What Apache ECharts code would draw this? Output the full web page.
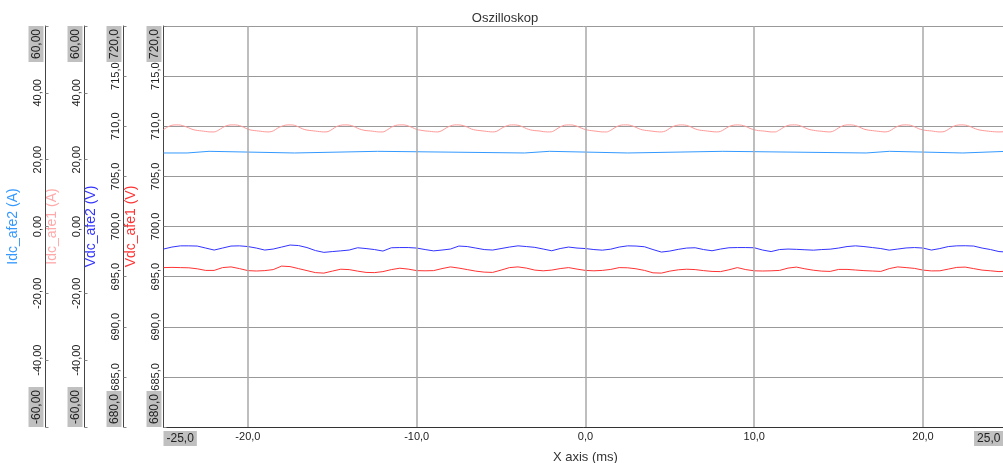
<!DOCTYPE html>
<html><head><meta charset="utf-8">
<script src="https://cdn.jsdelivr.net/npm/echarts@6/dist/echarts.min.js"></script>
<style>html,body{margin:0;padding:0;background:#fff;}#c{width:1003px;height:463px;}</style>
</head><body><div id="c"></div>
<script>
// time base (ms)
const T_START = -25;
const DT_IDC1 = 0.25;   // sample step of Idc_afe1
const DT_VDC = 0.5;     // sample step of Vdc_afe1 / Vdc_afe2

// Idc_afe1 (A), every 0.25 ms from -25 ms
const idcAfe1 = [
29.0, 29.8, 30.3, 30.4, 30.35, 30.0, 29.5, 29.0, 28.75, 28.6,
28.45, 28.3, 28.3, 28.8, 29.6, 30.2, 30.4, 30.4, 30.2, 29.7,
29.1, 28.8, 28.65, 28.5, 28.35, 28.3, 28.6, 29.4, 30.0, 30.35,
30.4, 30.3, 29.8, 29.2, 28.85, 28.7, 28.55, 28.4, 28.3, 28.4,
29.1, 29.9, 30.3, 30.4, 30.35, 30.0, 29.4, 28.95, 28.7, 28.6,
28.45, 28.3, 28.3, 28.9, 29.7, 30.25, 30.4, 30.4, 30.1, 29.6,
29.05, 28.8, 28.6, 28.5, 28.35, 28.3, 28.7, 29.5, 30.1, 30.4,
30.4, 30.2, 29.75, 29.15, 28.85, 28.7, 28.55, 28.4, 28.3, 28.5,
29.3, 29.95, 30.35, 30.4, 30.3, 29.9, 29.3, 28.9, 28.7, 28.6,
28.4, 28.3, 28.35, 29.0, 29.8, 30.3, 30.4, 30.35, 30.0, 29.45,
29.0, 28.75, 28.6, 28.45, 28.3, 28.3, 28.8, 29.6, 30.2, 30.4,
30.4, 30.15, 29.65, 29.1, 28.8, 28.65, 28.5, 28.35, 28.3, 28.6,
29.4, 30.05, 30.35, 30.4, 30.25, 29.8, 29.2, 28.85, 28.7, 28.55,
28.4, 28.3, 28.45, 29.15, 29.9, 30.3, 30.4, 30.3, 29.95, 29.35,
28.95, 28.7, 28.6, 28.45, 28.3, 28.3, 28.9, 29.7, 30.25, 30.4,
30.4, 30.1, 29.55, 29.05, 28.8, 28.6, 28.5, 28.35, 28.3, 28.7,
29.5, 30.15, 30.4, 30.4, 30.2, 29.7, 29.15, 28.85, 28.7, 28.55,
28.4, 28.3, 28.55, 29.3, 30.0, 30.35, 30.4, 30.3, 29.85, 29.25,
28.9, 28.7, 28.6, 28.4, 28.3, 28.4, 29.05, 29.85, 30.3, 30.4,
30.35, 30.0, 29.45, 29.0, 28.75, 28.6, 28.45, 28.35, 28.3, 28.35,
28.4
];

// Vdc_afe2 (V), every 0.5 ms from -25 ms
const vdcAfe2 = [
697.75, 697.95, 698.07, 698.07, 698.05, 697.85, 697.65, 697.85, 698.05, 698.07,
698.0, 697.85, 697.65, 697.75, 697.95, 698.15, 698.1, 697.9, 697.6, 697.42,
697.5, 697.57, 697.65, 697.88, 697.8, 697.7, 697.55, 697.88, 697.9, 697.9,
697.85, 697.7, 697.57, 697.65, 697.75, 698.05, 698.0, 697.85, 697.7, 697.65,
697.8, 697.95, 698.07, 698.0, 697.92, 697.75, 697.58, 697.8, 697.95, 697.85,
697.8, 697.7, 697.64, 697.74, 697.95, 698.07, 698.05, 697.98, 697.7, 697.45,
697.55, 697.72, 697.85, 697.88, 697.7, 697.58, 697.75, 697.88, 697.9, 697.9,
697.88, 697.65, 697.5, 697.7, 697.75, 697.72, 697.68, 697.64, 697.7, 697.74,
697.85, 698.0, 698.07, 698.0, 697.9, 697.8, 697.64, 697.75, 697.86, 697.9,
697.85, 697.65, 697.8, 698.0, 698.07, 698.08, 698.05, 697.85, 697.7, 697.5,
697.45
];

// Vdc_afe1 (V), every 0.5 ms from -25 ms
const vdcAfe1 = [
695.9, 695.92, 695.9, 695.88, 695.78, 695.62, 695.62, 695.9, 695.97, 695.8,
695.6, 695.56, 695.6, 695.7, 696.05, 696.0, 695.8, 695.6, 695.4, 695.35,
695.55, 695.74, 695.7, 695.55, 695.42, 695.4, 695.5, 695.7, 695.84, 695.75,
695.6, 695.58, 695.6, 695.8, 695.97, 695.85, 695.7, 695.55, 695.45, 695.42,
695.65, 695.9, 695.97, 695.85, 695.65, 695.58, 695.65, 695.8, 695.9, 695.75,
695.62, 695.58, 695.62, 695.72, 695.9, 695.88, 695.78, 695.62, 695.38, 695.35,
695.55, 695.68, 695.74, 695.7, 695.6, 695.52, 695.5, 695.68, 695.9, 695.7,
695.58, 695.56, 695.58, 695.62, 695.85, 695.95, 695.78, 695.64, 695.55, 695.52,
695.72, 695.72, 695.66, 695.6, 695.56, 695.52, 695.8, 695.97, 695.9, 695.82,
695.65, 695.57, 695.58, 695.75, 695.92, 695.95, 695.8, 695.65, 695.58, 695.5,
695.55
];

// Idc_afe2 (A): step signal, change times (ms) and held values
const idcAfe2Times  = [-25, -23.6, -22.3, -17.24, -12.31, -3.61, -2.13, 2.51, 8.14, 16.63, 18.01, 22.36, 25];
const idcAfe2Values = [22.0, 22.5, 22.0, 22.5, 22.0, 22.5, 22.0, 22.5, 22.0, 22.5, 22.0, 22.5, 22.5];

// axes
const X_MIN = -25, X_MAX = 25, X_STEP = 5;
const X_GRID = [-20, -10, 0, 10, 20];       // labelled x ticks / vertical grid lines
const V_MIN = 680, V_MAX = 720, V_STEP = 5;
const A_MIN = -60, A_MAX = 60, A_STEP = 20;

const FONT = "'Liberation Sans Narrow', 'Liberation Sans', Arial, sans-serif";
const FONT_W = "'Liberation Sans', Arial, sans-serif";

function pairs(arr, dt) { return arr.map((v, i) => [T_START + i * dt, v]); }
function fmt(dec) { return v => v.toFixed(dec).replace('.', ','); }
function isEdge(v, min, max) { return Math.abs(v - min) < 1e-9 || Math.abs(v - max) < 1e-9; }
function labelFmt(min, max, dec) {
  const f = fmt(dec);
  return v => isEdge(v, min, max) ? '{b|' + f(v) + '}' : f(v);
}
const boxStyle = { backgroundColor: '#c0c0c0', padding: [2, 3, 1, 3], fontSize: 12, fontFamily: FONT_W, color: '#222' };
const boxRich = { b: boxStyle, br: Object.assign({}, boxStyle, { padding: [2, 7, 1, 3] }) };

function yAxis(name, color, min, max, step, dec, offset, split) {
  return {
    type: 'value', position: 'left', offset: offset,
    min: min, max: max, interval: step,
    name: name, nameLocation: 'middle', nameRotate: 90, nameGap: 24,
    nameTextStyle: { color: color, fontSize: 14, fontFamily: FONT_W },
    axisLine: { show: true, onZero: false, lineStyle: { color: '#444', width: 1 } },
    axisTick: { show: true, inside: true, length: 3, lineStyle: { color: '#888' } },
    axisLabel: { rotate: 90, margin: 2, fontSize: 11, fontFamily: FONT, color: '#222',
      formatter: labelFmt(min, max, dec), rich: boxRich,
      showMinLabel: true, showMaxLabel: true,
      alignMinLabel: 'left', alignMaxLabel: 'right', hideOverlap: false },
    splitLine: { show: split, lineStyle: { color: '#999', width: 1 } }
  };
}

function xLabel(v) {
  if (Math.abs(v - X_MIN) < 1e-9) return '{b|' + fmt(1)(v) + '}';
  if (Math.abs(v - X_MAX) < 1e-9) return '{br|' + fmt(1)(v) + '}';
  return X_GRID.indexOf(v) >= 0 ? fmt(1)(v) : '';
}

const chart = echarts.init(document.getElementById('c'), null, { renderer: 'canvas' });
chart.setOption({
  animation: false,
  backgroundColor: '#fff',
  title: { text: 'Oszilloskop', left: 500, top: 7, textAlign: 'center',
    textStyle: { fontSize: 13, fontWeight: 'normal', color: '#333', fontFamily: FONT_W } },
  grid: { left: 163.5, right: -4.4, top: 26, bottom: 36, containLabel: false, outerBoundsMode: 'none' },
  xAxis: {
    type: 'value', min: X_MIN, max: X_MAX, interval: X_STEP,
    name: 'X axis (ms)', nameLocation: 'middle', nameGap: 16,
    nameTextStyle: { color: '#333', fontSize: 13, fontFamily: FONT_W },
    axisLine: { show: true, onZero: false, lineStyle: { color: '#333', width: 1 } },
    axisTick: { show: false },
    axisLabel: { fontSize: 11, fontFamily: FONT, color: '#222', margin: 4,
      formatter: xLabel, rich: boxRich, showMinLabel: true, showMaxLabel: true,
      alignMinLabel: 'left', alignMaxLabel: 'right', hideOverlap: false },
    splitLine: { show: false }
  },
  yAxis: [
    yAxis('Vdc_afe1 (V)', '#ff3333', V_MIN, V_MAX, V_STEP, 1, 0, true),
    yAxis('Vdc_afe2 (V)', '#3333ff', V_MIN, V_MAX, V_STEP, 1, 40, false),
    yAxis('Idc_afe1 (A)', '#ffaaaa', A_MIN, A_MAX, A_STEP, 2, 79, false),
    yAxis('Idc_afe2 (A)', '#3399ff', A_MIN, A_MAX, A_STEP, 2, 118, false)
  ],
  series: [
    { name: 'grid', type: 'line', yAxisIndex: 0, data: [], silent: true,
      markLine: { symbol: 'none', silent: true, label: { show: false },
        lineStyle: { color: '#a8a8a8', width: 1.5, type: 'solid' },
        data: X_GRID.map(v => ({ xAxis: v })) } },
    { name: 'Vdc_afe1', type: 'line', yAxisIndex: 0, showSymbol: false, symbol: 'none',
      data: pairs(vdcAfe1, DT_VDC), lineStyle: { color: '#ff3333', width: 1 } },
    { name: 'Vdc_afe2', type: 'line', yAxisIndex: 1, showSymbol: false, symbol: 'none',
      data: pairs(vdcAfe2, DT_VDC), lineStyle: { color: '#3333ff', width: 1 } },
    { name: 'Idc_afe1', type: 'line', yAxisIndex: 2, showSymbol: false, symbol: 'none', smooth: 0.3,
      data: pairs(idcAfe1, DT_IDC1), lineStyle: { color: '#ff9999', width: 1 } },
    { name: 'Idc_afe2', type: 'line', yAxisIndex: 3, showSymbol: false, symbol: 'none', step: 'end',
      data: idcAfe2Times.map((t, i) => [t, idcAfe2Values[i]]), lineStyle: { color: '#3399ff', width: 1 } }
  ]
});
</script></body></html>
